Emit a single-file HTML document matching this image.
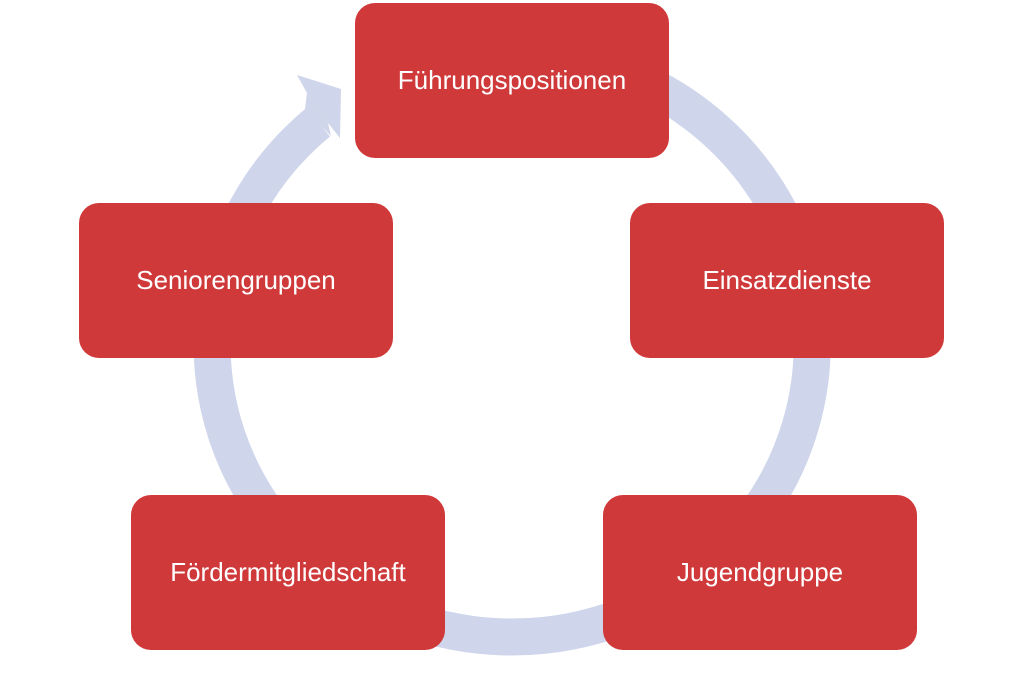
<!DOCTYPE html>
<html><head><meta charset="utf-8"><style>
html,body{margin:0;padding:0;background:#fff;}
body{width:1024px;height:684px;position:relative;overflow:hidden;font-family:"Liberation Sans",sans-serif;}
svg{position:absolute;left:0;top:0;}
.b{position:absolute;width:314px;height:155px;background:#cf393a;border-radius:20px;color:#fff;font-size:26px;display:flex;align-items:center;justify-content:center;}
</style></head><body>
<svg width="1024" height="684">
<path d="M512 53 A300 292 0 1 1 318.2 122.2" fill="none" stroke="#cfd5ea" stroke-width="37"/>
<polygon points="305,109 307,93 328,123 331,136" fill="#cfd5ea"/>
<polygon points="297,75 341,89 340,138 328,123 307,93" fill="#cfd5ea"/>
</svg>
<div class="b" style="left:355px;top:3px;">Führungspositionen</div>
<div class="b" style="left:630px;top:203px;">Einsatzdienste</div>
<div class="b" style="left:603px;top:495px;">Jugendgruppe</div>
<div class="b" style="left:131px;top:495px;">Fördermitgliedschaft</div>
<div class="b" style="left:79px;top:203px;">Seniorengruppen</div>
</body></html>
